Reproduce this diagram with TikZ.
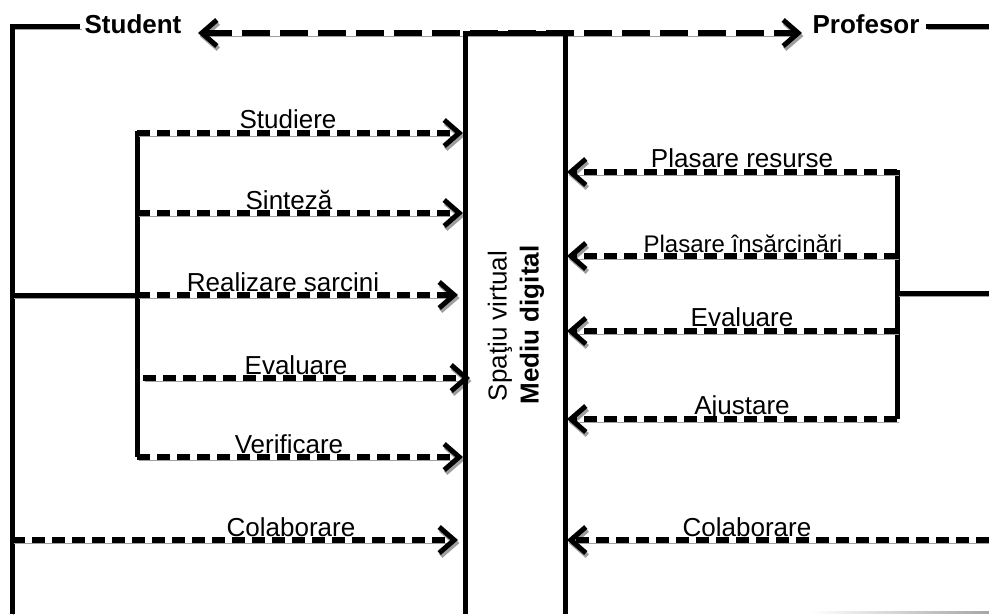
\documentclass[tikz,border=0pt]{standalone}
\usepackage{fontspec}
\setmainfont{Liberation Sans}
\usetikzlibrary{arrows.meta}
\begin{document}
\begin{tikzpicture}[x=1pt,y=-1pt,
  solidln/.style={line width=5pt, line cap=butt},
  dashln/.style={line width=5.5pt, dash pattern=on 13pt off 7pt},
  longdash/.style={line width=5.5pt, dash pattern=on 28pt off 10pt},
  shd/.style={preaction={draw=black!38, transform canvas={shift={(1.5pt,-3pt)}}}},
  barb/.tip={Straight Barb[length=15pt,width=26pt,line width=5pt]},
  tipend/.style={-barb},
  lbl/.style={font=\fontsize{26}{30}\selectfont, inner sep=0pt, anchor=base},
  boldlbl/.style={font=\fontsize{26}{30}\selectfont\bfseries, inner sep=0pt, anchor=base},
]
\useasboundingbox (0,0) rectangle (989,614);

% central box (open at the bottom edge)
\coordinate (bTL) at (465,33);
\coordinate (bTR) at (565,33);
\coordinate (bBL) at (465,614);
\coordinate (bBR) at (565,614);

% actors
\node[boldlbl] (stu) at (133,33) {Student};
\node[boldlbl] (prof) at (866,33) {Profesor};
\coordinate (stuTip) at (198,33);
\coordinate (profTip) at (802,33);
\coordinate (stuL) at (80,26);
\coordinate (profR) at (926,26);
\coordinate (edgeR) at (989,26);
\coordinate (sBot) at (12,614);

% student bus and branch
\coordinate (sMid) at (12,295);
\coordinate (brTop) at (137,131);
\coordinate (brBot) at (137,457);
\coordinate (brMid) at (137,295);

% teacher bus and branch
\coordinate (pBrTop) at (897,170);
\coordinate (pBrBot) at (897,419);
\coordinate (pBrMid) at (897,293);
\coordinate (pEdge) at (989,293);

% two-way link between the actors
\draw[longdash, shd, barb-barb] (stuTip) -- (profTip);

% student frame
\draw[solidln, shd] (sBot) |- (stuL);
\draw[solidln, shd] (profR) -- (edgeR);
\draw[solidln, shd] (sMid) -- (brMid);
\draw[solidln] (brTop) -- (brBot);

% teacher frame
\draw[solidln] (pBrTop) -- (pBrBot);
\draw[solidln, shd] (pBrMid) -- (pEdge);

% student activities
\coordinate (a1s) at (137,133); \coordinate (a1e) at (463,133);
\coordinate (a2s) at (137,213); \coordinate (a2e) at (463,213);
\coordinate (a3s) at (137,295); \coordinate (a3e) at (458,295);
\coordinate (a4s) at (143,378); \coordinate (a4e) at (470,378);
\coordinate (a5s) at (137,457); \coordinate (a5e) at (463,457);
\coordinate (a6s) at (12,540);  \coordinate (a6e) at (458,540);
\draw[dashln, shd, tipend] (a1s) -- (a1e);
\draw[dashln, shd, tipend] (a2s) -- (a2e);
\draw[dashln, shd, tipend] (a3s) -- (a3e);
\draw[dashln, shd, tipend] (a4s) -- (a4e);
\draw[dashln, shd, tipend] (a5s) -- (a5e);
\draw[dashln, shd, tipend] (a6s) -- (a6e);
\node[lbl] (l1) at (288,128) {Studiere};
\node[lbl] (l2) at (289,209) {Sinteză};
\node[lbl] (l3) at (283,291) {Realizare sarcini};
\node[lbl] (l4) at (296,374) {Evaluare};
\node[lbl] (l5) at (289,453) {Verificare};
\node[lbl] (l6) at (291,536) {Colaborare};

% teacher activities
\coordinate (r1s) at (897,172); \coordinate (r1e) at (567,172);
\coordinate (r2s) at (897,256); \coordinate (r2e) at (567,256);
\coordinate (r3s) at (897,331); \coordinate (r3e) at (567,331);
\coordinate (r4s) at (897,419); \coordinate (r4e) at (567,419);
\coordinate (r5s) at (989,540); \coordinate (r5e) at (567,540);
\draw[dashln, shd, tipend] (r1s) -- (r1e);
\draw[dashln, shd, tipend] (r2s) -- (r2e);
\draw[dashln, shd, tipend] (r3s) -- (r3e);
\draw[dashln, shd, tipend] (r4s) -- (r4e);
\draw[dashln, shd, tipend] (r5s) -- (r5e);
\node[lbl] (m1) at (742,167) {Plasare resurse};
\node[lbl, font=\fontsize{24}{28}\selectfont] (m2) at (743,252) {Plasare însărcinări};
\node[lbl] (m3) at (742,326) {Evaluare};
\node[lbl] (m4) at (742,414) {Ajustare};
\node[lbl] (m5) at (747,536) {Colaborare};

% central box outline
\draw[solidln] (bBL) -- (bTL) -- (bTR) -- (bBR);
\node[lbl, anchor=center, rotate=90] (sp) at (500,326) {Spaţiu virtual};
\node[boldlbl, anchor=center, rotate=90] (md) at (532,325) {Mediu digital};

% faint rule at the lower right
\shade[left color=white, right color=black!35] (810,611) rectangle (989,613);
\end{tikzpicture}
\end{document}
